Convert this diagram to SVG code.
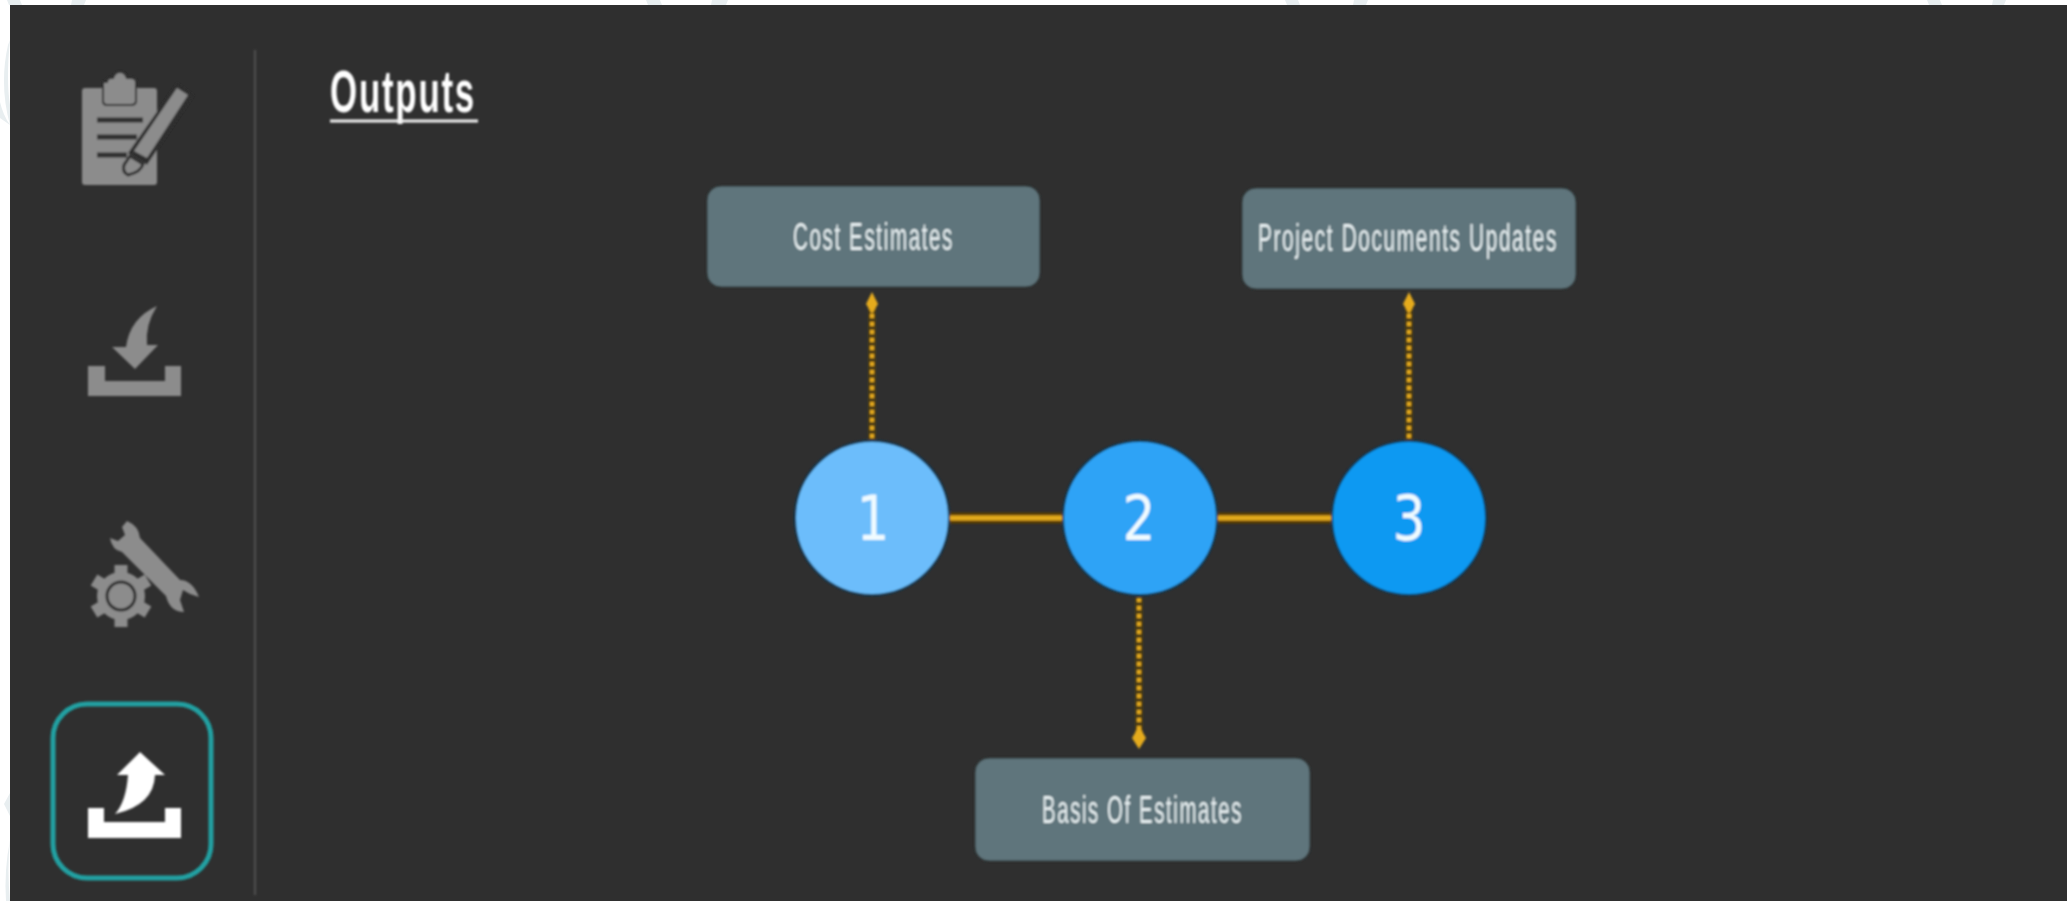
<svg xmlns="http://www.w3.org/2000/svg" width="2067" height="901" viewBox="0 0 2067 901">
<style>
.lbl{font-family:"Liberation Sans",sans-serif;fill:#e6eef0;font-size:38px;letter-spacing:3px}
.ttl{font-family:"Liberation Sans",sans-serif;font-weight:700;font-size:60px;fill:#fff;letter-spacing:3px}
.num{font-family:"DejaVu Sans",sans-serif;fill:#f0fbff;font-size:62px;text-anchor:middle}
.box{fill:#5f757b;stroke:#2a3436;stroke-width:1}
.ic{fill:#8c8c8c}
.node{stroke:#123c5c;stroke-width:2}
.dot{stroke:#e5ab1f;stroke-width:4;stroke-dasharray:4 4;fill:none}
.dothalo{stroke:#4a3a14;stroke-width:8;fill:none}
.halo{stroke:#5b3d06;stroke-width:11;fill:none}
.solid{stroke:#e5ab1f;stroke-width:5;fill:none}
.tip{fill:#e5ab1f}
.wm{fill:#e8eef0}
</style>
<defs><filter id="soft" x="-2%" y="-2%" width="104%" height="104%"><feGaussianBlur stdDeviation="0.8"/></filter></defs>
<rect width="2067" height="901" fill="#ffffff"/>
<g id="watermark">
<path class="wm" d="M7 0H20L22 5H9ZM72 0H86L84 5H71ZM646 0H660L662 5H648ZM712 0H728L726 5H711ZM1285 0H1298L1300 5H1287ZM1354 0H1368L1366 5H1353ZM1927 0H1940L1942 5H1929ZM1993 0H2006L2004 5H1992Z"/>
<path class="wm" d="M10 40Q6 80 10 105V125Q3 115 0 102V118L10 125Q-1 85 8 45Z"/>
<path class="wm" d="M10 793L4 804L10 816ZM10 840Q7 870 10 901H6Q4 870 10 840Z"/>
</g>
<rect x="10" y="5" width="2057" height="896" fill="#2f2f2f"/>
<g filter="url(#soft)">
<line x1="255" y1="50" x2="255" y2="895" stroke="#4f4f4f" stroke-width="2"/>
<g id="icon-plan">
<rect class="ic" x="82" y="88" width="75" height="97" rx="3"/>
<path class="ic" d="M107 82Q107 78 111 78H113Q115 72 120 72Q125 72 127 78H131Q136 78 136 82V101Q136 105 131 105H107Q103 105 103 101V82Z" stroke="#2f2f2f" stroke-width="2"/>
<path d="M97 120H143M97 137H137M97 155H127" stroke="#2f2f2f" stroke-width="5" fill="none"/>
<path d="M178 88L189 96L146 160L133 152Z" fill="#2f2f2f" stroke="#2f2f2f" stroke-width="7"/>
<path class="ic" d="M177 88L188 95L147 158L134 151Z"/>
<path d="M130 156L143 164Q141 172 128 175Q122 172 124 165Z" class="ic" stroke="#2f2f2f" stroke-width="3"/>
</g>
<g id="icon-input">
<path class="ic" d="M88 366H105V381H165V366H181V396H88Z"/>
<path class="ic" d="M157 306Q145 325 147 345H158L135 369L112 347H126Q130 318 157 306Z"/>
</g>
<g id="icon-tools">
<circle class="ic" cx="121" cy="596" r="24"/>
<path d="M121 565V627M94 580L148 612M94 612L148 580" stroke="#8c8c8c" stroke-width="13" fill="none"/>
<circle cx="121" cy="596" r="14" fill="none" stroke="#2f2f2f" stroke-width="3"/>
<path class="ic" d="M127 521Q139 526 140 538L180 580Q192 580 199 597L190 594L183 590L180 600L184 612Q170 612 166 596L122 552Q112 550 110 538L118 541L125 535L122 527Z"/>
</g>
<g id="icon-output">
<rect x="53" y="704" width="158" height="174" rx="34" fill="none" stroke="#20a0a2" stroke-width="5"/>
<path d="M88 808H104V822H165V808H181V838H88Z" fill="#fff"/>
<path d="M115 814Q126 802 128 775H117L140 752L165 775H155Q154 805 115 814Z" fill="#fff"/>
</g>
<g id="title">
<text class="ttl" x="330" y="112" textLength="146" lengthAdjust="spacingAndGlyphs">Outputs</text>
<line x1="330" y1="121" x2="478" y2="121" stroke="#f2f2f2" stroke-width="3"/>
</g>
<g id="connectors">
<path class="halo" d="M948 518H1064M1217 518H1332"/>
<path class="solid" d="M948 518H1064M1217 518H1332"/>
<path class="dothalo" d="M872 306V440M1409 306V440M1139 598V734"/>
<path class="dot" d="M872 306V440M1409 306V440M1139 598V734"/>
<path class="tip" d="M872 292L878 304L872 314L866 304Z"/>
<path class="tip" d="M1409 292L1415 304L1409 314L1403 304Z"/>
<path class="tip" d="M1139 749L1146 738L1139 726L1132 738Z"/>
</g>
<g id="node-cost">
<rect class="box" x="707" y="186" width="333" height="101" rx="14"/>
<text class="lbl" x="793" y="250" textLength="161" lengthAdjust="spacingAndGlyphs">Cost Estimates</text>
</g>
<g id="node-project">
<rect class="box" x="1242" y="188" width="334" height="101" rx="14"/>
<text class="lbl" x="1258" y="251" textLength="300" lengthAdjust="spacingAndGlyphs">Project Documents Updates</text>
</g>
<g id="node-basis">
<rect class="box" x="975" y="758" width="335" height="103" rx="14"/>
<text class="lbl" x="1042" y="823" textLength="201" lengthAdjust="spacingAndGlyphs">Basis Of Estimates</text>
</g>
<g id="node-1">
<circle class="node" cx="872" cy="518" r="77" fill="#6cbdfb"/>
<text class="num" x="873" y="540" textLength="33" lengthAdjust="spacingAndGlyphs">1</text>
</g>
<g id="node-2">
<circle class="node" cx="1140" cy="518" r="77" fill="#2fa3f6"/>
<text class="num" x="1139" y="540" textLength="33" lengthAdjust="spacingAndGlyphs">2</text>
</g>
<g id="node-3">
<circle class="node" cx="1409" cy="518" r="77" fill="#0a99f2"/>
<text class="num" x="1409" y="540" textLength="33" lengthAdjust="spacingAndGlyphs">3</text>
</g>
</g>
</svg>
